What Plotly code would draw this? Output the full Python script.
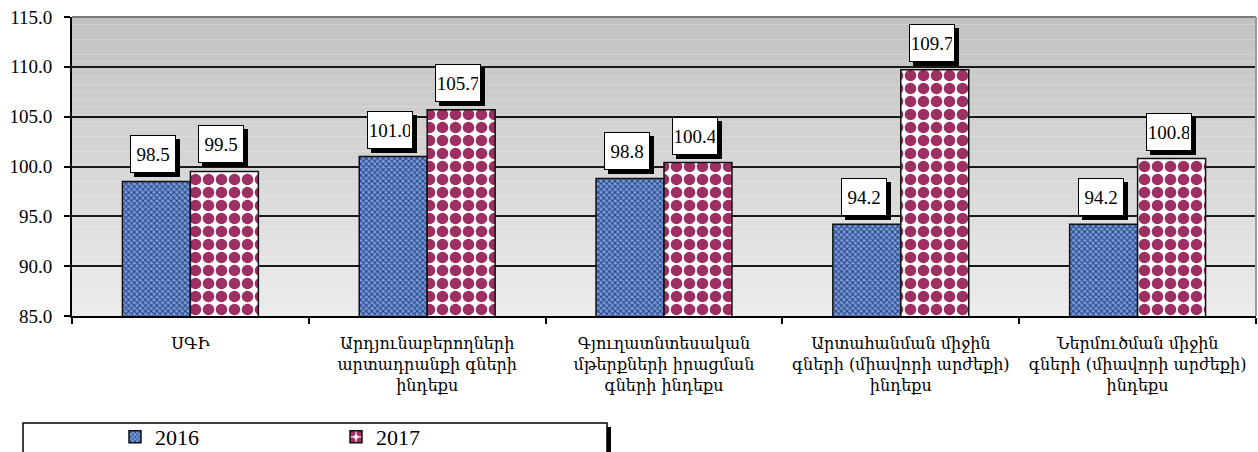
import plotly.graph_objects as go

categories = [
    "ՍԳԻ",
    "Արդյունաբերողների<br>արտադրանքի գների<br>ինդեքս",
    "Գյուղատնտեսական<br>մթերքների իրացման<br>գների ինդեքս",
    "Արտահանման միջին<br>գների (միավորի արժեքի)<br>ինդեքս",
    "Ներմուծման միջին<br>գների (միավորի արժեքի)<br>ինդեքս",
]
series_names = ["2016", "2017"]
values_2016 = [98.5, 101.0, 98.8, 94.2, 94.2]
values_2017 = [99.5, 105.7, 100.4, 109.7, 100.8]
y_ticks = [85, 90, 95, 100, 105, 110, 115]

FONT = "Liberation Serif"
CAT_FONT = "DejaVu Serif"

fig = go.Figure()
fig.add_trace(go.Bar(
    name=series_names[0], x=categories, y=values_2016,
    marker=dict(color="#7a9ad9", line=dict(color="#111111", width=1.5),
                pattern=dict(shape="x", fgcolor="#213f80", bgcolor="#7a9ad9",
                             size=4, solidity=0.42, fillmode="replace", fgopacity=1)),
))
fig.add_trace(go.Bar(
    name=series_names[1], x=categories, y=values_2017,
    marker=dict(color="#ffffff", line=dict(color="#111111", width=1.5),
                pattern=dict(shape=".", fgcolor="#9e2f62", bgcolor="#ffffff",
                             size=13, solidity=0.62, fillmode="replace", fgopacity=1)),
))

# background gradient bands (style only)
n_bands = 40
for i in range(n_bands):
    t = i / (n_bands - 1)
    c = int(236 - (236 - 194) * t)
    fig.add_shape(type="rect", xref="x domain", yref="y domain",
                  x0=0, x1=1, y0=i / n_bands, y1=(i + 1) / n_bands,
                  fillcolor=f"rgb({c},{c},{c})", line=dict(width=0), layer="below")

# top & right gray border
fig.add_shape(type="line", xref="x domain", yref="y domain", x0=0, x1=1, y0=1, y1=1,
              line=dict(color="#7a7a7a", width=2))
fig.add_shape(type="line", xref="x domain", yref="y domain", x0=1, x1=1, y0=0, y1=1,
              line=dict(color="#9a9a9a", width=2))

# value labels with shadow boxes
bar_half = 34
for vals, sign in ((values_2016, -1), (values_2017, 1)):
    for cat, v in zip(categories, vals):
        common = dict(x=cat, y=v, xref="x", yref="y", showarrow=False,
                      yanchor="bottom", width=40, height=32, borderpad=2, borderwidth=1,
                      font=dict(family=FONT, size=19, color="black"))
        fig.add_annotation(**common, text=" ", xshift=sign * bar_half + 1, yshift=4,
                           bgcolor="black", bordercolor="black")
        fig.add_annotation(**common, text=f"{v:.1f}", xshift=sign * bar_half - 3, yshift=8,
                           bgcolor="white", bordercolor="black")

# legend box with shadow
plot_l, plot_w, plot_b, plot_h = 72, 1184, 316, 299
def px_x(p):
    return (p - plot_l) / plot_w
def px_y(p):
    return (plot_b - p) / plot_h
fig.add_shape(type="rect", xref="paper", yref="paper",
              x0=px_x(27), x1=px_x(611), y0=px_y(427), y1=px_y(480),
              fillcolor="black", line=dict(width=0))
fig.add_shape(type="rect", xref="paper", yref="paper",
              x0=px_x(23), x1=px_x(607), y0=px_y(423), y1=px_y(480),
              fillcolor="white", line=dict(color="black", width=1.5))

fig.update_layout(
    width=1258, height=452,
    margin=dict(l=72, r=2, t=17, b=136, autoexpand=False),
    paper_bgcolor="white", plot_bgcolor="white",
    barmode="group", bargap=0.426, bargroupgap=0,
    font=dict(family=FONT, size=16, color="black"),
    showlegend=True,
    legend=dict(orientation="h", xref="container", yref="container",
                x=115 / 1258, xanchor="left",
                y=1 - 437 / 452, yanchor="middle",
                entrywidth=176, entrywidthmode="pixels",
                font=dict(family=FONT, size=22, color="black"),
                bgcolor="rgba(0,0,0,0)", borderwidth=0),
    xaxis=dict(type="category", tickson="boundaries", ticks="outside",
               ticklen=6, tickwidth=1.5, tickcolor="black",
               showline=True, linecolor="black", linewidth=2,
               showgrid=False, tickfont=dict(family=CAT_FONT, size=16),
               ticklabelstandoff=12, automargin=False),
    yaxis=dict(range=[85, 115], tickvals=y_ticks,
               ticktext=[f"{t:.1f}" for t in y_ticks],
               ticks="outside", ticklen=6, tickwidth=1.5, tickcolor="black",
               showline=True, linecolor="black", linewidth=2,
               showgrid=True, gridcolor="#1a1a1a", gridwidth=1.5,
               zeroline=False, tickfont=dict(family=FONT, size=19),
               ticklabelstandoff=8, automargin=False),
)

fig.write_html("out.html", config={"displayModeBar": False},
               post_script="document.body.style.margin='0';document.body.style.padding='0';")
